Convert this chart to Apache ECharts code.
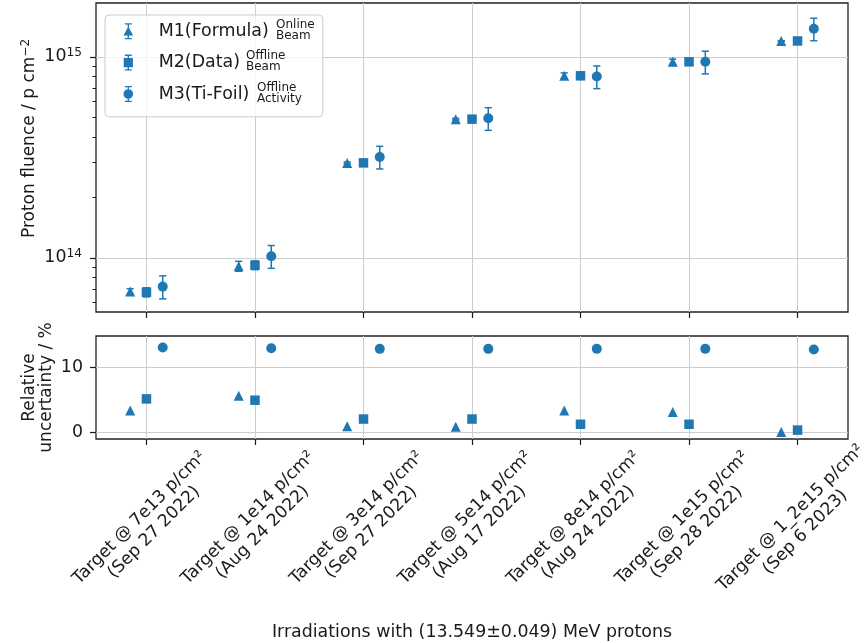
<!DOCTYPE html>
<html>
<head>
<meta charset="utf-8">
<script src="https://cdn.jsdelivr.net/npm/echarts@6/dist/echarts.min.js"></script>
<style>
  html, body { margin: 0; padding: 0; background: #fff; }
  #chart { width: 865px; height: 643px; }
</style>
</head>
<body>
<div id="chart"></div>
<script>
// Irradiation targets (x categories), two label lines each
const targets = ['Target @ 7e13 p/cm²', 'Target @ 1e14 p/cm²', 'Target @ 3e14 p/cm²', 'Target @ 5e14 p/cm²',
                 'Target @ 8e14 p/cm²', 'Target @ 1e15 p/cm²', 'Target @ 1_2e15 p/cm²'];
const dates = ['(Sep 27 2022)', '(Aug 24 2022)', '(Sep 27 2022)', '(Aug 17 2022)',
               '(Aug 24 2022)', '(Sep 28 2022)', '(Sep 6 2023)'];

// Proton fluence per method [p/cm^2]
const m1Fluence = [6.8e13, 9.1e13, 2.97e14, 4.9e14, 8.05e14, 9.45e14, 1.2e15];
const m2Fluence = [6.75e13, 9.2e13, 2.97e14, 4.9e14, 8.05e14, 9.45e14, 1.2e15];
const m3Fluence = [7.2e13, 1.02e14, 3.18e14, 4.95e14, 7.98e14, 9.45e14, 1.38e15];

// Relative uncertainty per method [%]
const m1Unc = [3.4, 5.7, 1.0, 0.9, 3.4, 3.2, 0.1];
const m2Unc = [5.2, 5.0, 2.1, 2.1, 1.3, 1.3, 0.4];
const m3Unc = [13.1, 13.0, 12.9, 12.9, 12.9, 12.9, 12.8];

// Legend names and their stacked annotations
const methodNames = ['M1(Formula)', 'M2(Data)', 'M3(Ti-Foil)'];
const methodNotes = [['Online', 'Beam'], ['Offline', 'Beam'], ['Offline', 'Activity']];

// Axis ticks
const fluenceDecades = [14, 15];
const fluenceMinor = [6e13, 7e13, 8e13, 9e13, 2e14, 3e14, 4e14, 5e14, 6e14, 7e14, 8e14, 9e14];
const uncTicks = [0, 10];
const xAxisTitle = 'Irradiations with (13.549±0.049) MeV protons';

const FONT = 'DejaVu Sans';
const FS = 17.4;
const BLUE = '#1f77b4';
const INK = '#1a1a1a';
const GRIDC = '#cdcdcd';
const offsets = [-0.15, 0, 0.15];
const symbols = ['triangle', 'rect', 'circle'];
const fluences = [m1Fluence, m2Fluence, m3Fluence];
const uncs = [m1Unc, m2Unc, m3Unc];
const catIdx = targets.map((_, i) => i);

// legend icons: marker with an error bar through it
const barPart = 'M1.5 0 H8.5 V1.3 H1.5 Z M4.35 0 H5.65 V16 H4.35 Z M1.5 14.7 H8.5 V16 H1.5 Z ';
const legendIcons = [
  'path://' + barPart + 'M5 3.4 L9.8 12.3 L0.2 12.3 Z',
  'path://' + barPart + 'M0.4 3.4 H9.6 V12.6 H0.4 Z',
  'path://' + barPart + 'M0.2 8 A4.8 4.8 0 1 1 9.8 8 A4.8 4.8 0 1 1 0.2 8 Z'
];

function xAxisBase(grid) {
  return {
    type: 'value', gridIndex: grid, min: -0.465, max: 6.465,
    axisLine: { show: false, onZero: false },
    axisTick: { show: true, customValues: catIdx, length: 6, lineStyle: { color: INK, width: 1.2 } },
    splitLine: { show: true, lineStyle: { color: GRIDC, width: 1 } },
    axisLabel: { show: false }
  };
}

const xTop = xAxisBase(0);
const xBottom = xAxisBase(1);
xBottom.axisLabel = {
  show: true, customValues: catIdx, rotate: 45, align: 'center', verticalAlign: 'middle',
  margin: 69.5, padding: [24, 23, 0, 0],
  formatter: v => '{a|' + targets[Math.round(v)] + '}\n{a|' + dates[Math.round(v)] + '}',
  rich: { a: { fontFamily: FONT, fontSize: 17.2, lineHeight: 20.5, align: 'center', color: INK } }
};
xBottom.name = xAxisTitle;
xBottom.nameLocation = 'middle';
xBottom.nameGap = 185;
xBottom.nameMoveOverlap = false;
xBottom.nameTextStyle = { fontFamily: FONT, fontSize: FS, color: INK };

const yTopMajor = {
  type: 'value', gridIndex: 0, position: 'left', offset: 0, min: 13.731, max: 15.268,
  axisLine: { show: false, onZero: false },
  axisTick: { show: true, customValues: fluenceDecades, length: 6, lineStyle: { color: INK, width: 1.2 } },
  splitLine: { show: true, lineStyle: { color: GRIDC, width: 1 } },
  axisLabel: {
    show: true, customValues: fluenceDecades, margin: 14,
    formatter: v => '{b|10}{s|' + Math.round(v) + '}',
    rich: {
      b: { fontFamily: FONT, fontSize: FS, lineHeight: 20, color: INK },
      s: { fontFamily: FONT, fontSize: 12.2, lineHeight: 12, verticalAlign: 'top', color: INK }
    }
  },
  name: '{n|Proton fluence / p cm}{s|−2}',
  nameLocation: 'middle', nameGap: 56, nameMoveOverlap: false,
  nameTextStyle: {
    padding: [0, 0, 0, 38],
    rich: {
      n: { fontFamily: FONT, fontSize: 17, lineHeight: 20, color: INK },
      s: { fontFamily: FONT, fontSize: 12, lineHeight: 12, verticalAlign: 'top', color: INK }
    }
  }
};

const yTopMinor = {
  type: 'value', gridIndex: 0, position: 'left', offset: 0, min: 13.731, max: 15.268,
  axisLine: { show: false, onZero: false },
  axisTick: { show: true, customValues: fluenceMinor.map(v => Math.log10(v)), length: 3.5,
              lineStyle: { color: INK, width: 1 } },
  splitLine: { show: false },
  axisLabel: { show: false }
};

const yBottom = {
  type: 'value', gridIndex: 1, position: 'left', offset: 0, min: -0.97, max: 14.88,
  axisLine: { show: false, onZero: false },
  axisTick: { show: true, customValues: uncTicks, length: 6, lineStyle: { color: INK, width: 1.2 } },
  splitLine: { show: true, lineStyle: { color: GRIDC, width: 1 } },
  axisLabel: { show: true, customValues: uncTicks, margin: 13,
               fontFamily: FONT, fontSize: FS, color: INK },
  name: 'Relative\nuncertainty / %',
  nameLocation: 'middle', nameGap: 41, nameMoveOverlap: false,
  nameTextStyle: { fontFamily: FONT, fontSize: 17, lineHeight: 17, color: INK, align: 'center' }
};

// error bars drawn through the fluence axis
function errorBarItem(params, api) {
  const x = api.value(0);
  const lo = api.coord([x, api.value(1)]);
  const hi = api.coord([x, api.value(2)]);
  const cap = 3.6;
  const st = { stroke: BLUE, lineWidth: 1.5 };
  return {
    type: 'group',
    children: [
      { type: 'line', shape: { x1: lo[0], y1: lo[1], x2: hi[0], y2: hi[1] }, style: st },
      { type: 'line', shape: { x1: hi[0] - cap, y1: hi[1], x2: hi[0] + cap, y2: hi[1] }, style: st },
      { type: 'line', shape: { x1: lo[0] - cap, y1: lo[1], x2: lo[0] + cap, y2: lo[1] }, style: st }
    ]
  };
}

const series = [];
methodNames.forEach((name, k) => {
  const flu = fluences[k];
  const unc = uncs[k];
  series.push({
    name, type: 'custom', xAxisIndex: 0, yAxisIndex: 0, z: 2,
    renderItem: errorBarItem,
    encode: { x: 0, y: [1, 2] },
    data: flu.map((v, i) => [i + offsets[k], Math.log10(v * (1 - unc[i] / 100)), Math.log10(v * (1 + unc[i] / 100))])
  });
  series.push({
    name, type: 'scatter', xAxisIndex: 0, yAxisIndex: 0, z: 3,
    symbol: symbols[k], symbolSize: k === 1 ? 9.5 : 10,
    itemStyle: { color: BLUE, opacity: 1 },
    data: flu.map((v, i) => [i + offsets[k], Math.log10(v)])
  });
  series.push({
    name, type: 'scatter', xAxisIndex: 1, yAxisIndex: 2, z: 3,
    symbol: symbols[k], symbolSize: k === 1 ? 9.5 : 10,
    itemStyle: { color: BLUE, opacity: 1 },
    data: unc.map((v, i) => [i + offsets[k], v])
  });
});

const rowCenters = [31, 62.2, 93.4];
const noteX = [276, 246, 257];
const graphic = [];
methodNotes.forEach((pair, k) => {
  graphic.push({
    type: 'text', x: noteX[k], y: rowCenters[k] - 6, z: 100,
    style: { text: pair[0], fontFamily: FONT, fontSize: 12, fill: INK, verticalAlign: 'middle', align: 'left' }
  });
  graphic.push({
    type: 'text', x: noteX[k], y: rowCenters[k] + 5, z: 100,
    style: { text: pair[1], fontFamily: FONT, fontSize: 12, fill: INK, verticalAlign: 'middle', align: 'left' }
  });
});

const chart = echarts.init(document.getElementById('chart'), null, { renderer: 'canvas' });
chart.setOption({
  animation: false,
  backgroundColor: '#fff',
  textStyle: { fontFamily: FONT },
  grid: [
    { left: 96, right: 17, top: 3, height: 309, containLabel: false, outerBoundsMode: 'none',
      show: true, borderColor: '#222', borderWidth: 1.3, backgroundColor: 'transparent' },
    { left: 96, right: 17, top: 336, height: 103, containLabel: false, outerBoundsMode: 'none',
      show: true, borderColor: '#222', borderWidth: 1.3, backgroundColor: 'transparent' }
  ],
  xAxis: [xTop, xBottom],
  yAxis: [yTopMajor, yTopMinor, yBottom],
  legend: {
    orient: 'vertical', left: 105, top: 15,
    padding: [7.7, 54, 14.3, 18.5],
    itemWidth: 11, itemHeight: 16, itemGap: 14.4,
    backgroundColor: 'rgba(255,255,255,0.8)', borderColor: '#cccccc', borderWidth: 1, borderRadius: 4,
    selectedMode: false,
    data: methodNames.map((n, k) => ({ name: n, icon: legendIcons[k], itemStyle: { color: BLUE } })),
    formatter: n => '{t|' + n + '}',
    textStyle: { rich: { t: { fontFamily: FONT, fontSize: FS, lineHeight: 20, padding: [0, 0, 0, 20], color: INK } } }
  },
  graphic,
  series
});
</script>
</body>
</html>
